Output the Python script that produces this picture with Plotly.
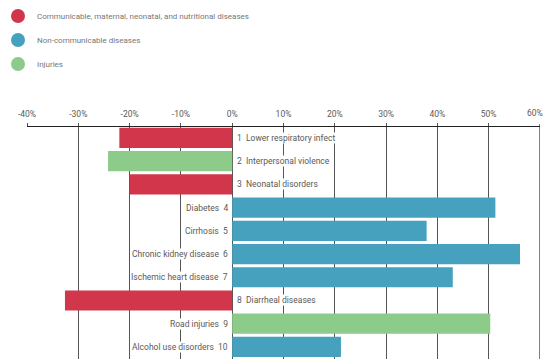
import plotly.graph_objects as go

# ---- data ----
ranks = [1, 2, 3, 4, 5, 6, 7, 8, 9, 10]
causes = ["Lower respiratory infect", "Interpersonal violence", "Neonatal disorders",
          "Diabetes", "Cirrhosis", "Chronic kidney disease", "Ischemic heart disease",
          "Diarrheal diseases", "Road injuries", "Alcohol use disorders"]
groups = ["Communicable", "Injuries", "Communicable", "NCD", "NCD", "NCD", "NCD",
          "Communicable", "Injuries", "NCD"]
values = [-22, -24.2, -20, 51.3, 37.9, 56.1, 43.0, -32.6, 50.3, 21.2]

legend_keys = ["Communicable", "NCD", "Injuries"]
legend_labels = ["Communicable, maternal, neonatal, and nutritional diseases",
                 "Non-communicable diseases", "Injuries"]
group_colors = {"Communicable": "#D1364B", "NCD": "#45A1BE", "Injuries": "#8CCB8A"}

tick_vals = [-40, -30, -20, -10, 0, 10, 20, 30, 40, 50, 60]
tick_text = ["-40%", "-30%", "-20%", "-10%", "0%", "10%", "20%", "30%", "40%", "50%", "60%"]

FONT = "Roboto"
TXT = "#5a5a5a"
GRID = "#555555"

fig = go.Figure()
fig.add_trace(go.Bar(
    x=values, y=ranks, orientation="h",
    marker=dict(color=[group_colors[g] for g in groups], line=dict(width=0)),
    hoverinfo="skip", showlegend=False,
))

annotations = []
for r, c, v in zip(ranks, causes, values):
    if v >= 0:
        annotations.append(dict(x=0, y=r, xref="x", yref="y", text=f"{c}  {r}",
                                xanchor="right", yanchor="middle", xshift=-3,
                                showarrow=False, bgcolor="white", borderpad=0,
                                font=dict(family=FONT, size=8.5, color=TXT)))
    else:
        annotations.append(dict(x=0, y=r, xref="x", yref="y", text=f"{r}  {c}",
                                xanchor="left", yanchor="middle", xshift=4,
                                showarrow=False, bgcolor="white", borderpad=0,
                                font=dict(family=FONT, size=8.5, color=TXT)))

# last tick label (at the right edge) drawn as annotation, kept inside the figure
annotations.append(dict(x=tick_vals[-1], y=1, xref="x", yref="paper", text=tick_text[-1],
                        xanchor="center", yanchor="middle", yshift=14, xshift=-5,
                        showarrow=False,
                        font=dict(family=FONT, size=8.5, color=TXT)))

# legend drawn as circles + text (pixel based positions converted to paper)
H, TOP, PH = 359, 127, 232
L, PW = 27, 513
shapes = []
for i, (k, lab) in enumerate(zip(legend_keys, legend_labels)):
    py = 16 + i * 24
    yp = 1 + (TOP - py) / PH
    xp = (18 - L) / PW
    shapes.append(dict(type="circle", xref="paper", yref="paper",
                       xsizemode="pixel", ysizemode="pixel",
                       xanchor=xp, yanchor=yp, x0=-7, x1=7, y0=-7, y1=7,
                       fillcolor=group_colors[k], line=dict(width=0)))
    annotations.append(dict(x=(35 - L) / PW, y=yp, xref="paper", yref="paper",
                            text=lab, xanchor="left", yanchor="middle", showarrow=False,
                            font=dict(family=FONT, size=8, color="#777777")))

# right edge gridline at 60%
shapes.append(dict(type="line", xref="x", yref="paper", x0=tick_vals[-1], x1=tick_vals[-1],
                   y0=0, y1=1.013, line=dict(color=GRID, width=1.5), layer="below"))

fig.update_layout(
    width=544, height=359,
    margin=dict(l=L, r=544 - L - PW, t=TOP, b=0, autoexpand=False),
    paper_bgcolor="white", plot_bgcolor="white",
    bargap=0.13,
    xaxis=dict(side="top", range=[-40, 60], tickvals=tick_vals[:-1], ticktext=tick_text[:-1],
               showgrid=True, gridcolor=GRID, gridwidth=1, zeroline=False,
               showline=True, linecolor="#222222", linewidth=1.2,
               ticks="outside", ticklen=3, tickcolor=GRID, tickwidth=1,
               ticklabelstandoff=3, automargin=False,
               tickfont=dict(family=FONT, size=8.5, color=TXT), fixedrange=True),
    yaxis=dict(range=[10.52, 0.53], showticklabels=False, showgrid=False,
               zeroline=False, showline=False, fixedrange=True, automargin=False),
    shapes=shapes,
    annotations=annotations,
)

fig.write_html("out.html", config={"displayModeBar": False},
               post_script="document.body.style.margin='0';document.body.style.overflow='hidden';")
